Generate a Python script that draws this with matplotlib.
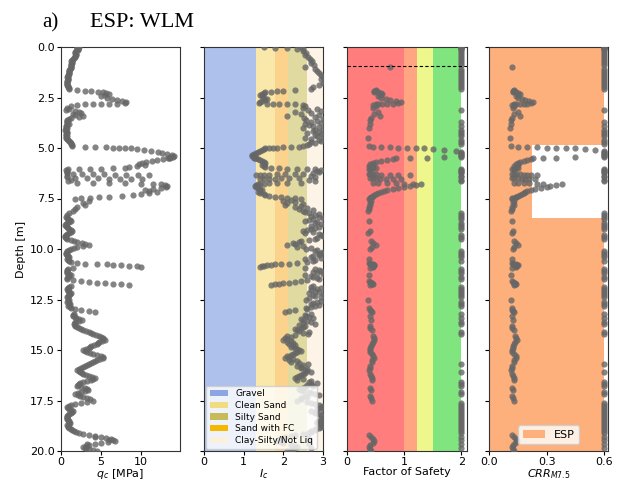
import matplotlib
matplotlib.use("Agg")
import matplotlib.pyplot as plt
from matplotlib.patches import Patch

# ---------------- data ----------------
DEPTH = [
    0.0, 0.02, 0.04, 0.06, 0.08, 0.1, 0.2, 0.3, 0.4, 0.5, 0.6, 0.7, 0.8, 0.9,
    1.0, 1.1, 1.2, 1.3, 1.4, 1.5, 1.6, 1.7, 1.8, 1.9, 2.0, 2.1,
    2.15, 2.17, 2.19, 2.21,
    2.25, 2.3, 2.35, 2.4, 2.45, 2.5, 2.55, 2.6, 2.65, 2.7, 2.75,
    2.8, 2.81, 2.82, 2.83, 2.84, 2.85,
    2.9, 3.0, 3.1, 3.2, 3.3, 3.4, 3.5, 3.6, 3.7, 3.8, 3.9, 4.0, 4.1, 4.2, 4.3, 4.4, 4.5, 4.6, 4.7, 4.8, 4.9,
    4.95, 4.96, 4.97, 4.98, 4.99, 5.0, 5.02,
    5.05, 5.1, 5.15, 5.2, 5.25, 5.3, 5.35, 5.4, 5.45,
    5.47, 5.48, 5.49,
    5.5, 5.55, 5.6, 5.65, 5.7, 5.75, 5.8, 5.85, 5.9, 5.95,
    6.0, 6.01, 6.02, 6.03, 6.04,
    6.05, 6.1, 6.15, 6.2, 6.25,
    6.28, 6.29, 6.3, 6.31, 6.32, 6.33, 6.34, 6.35,
    6.4, 6.45,
    6.48, 6.49, 6.5, 6.51, 6.52, 6.53, 6.54,
    6.6, 6.65,
    6.72, 6.73, 6.74, 6.75, 6.76, 6.77,
    6.8, 6.85, 6.9, 6.95, 7.0, 7.05, 7.1, 7.15, 7.2, 7.25, 7.3, 7.35,
    7.4, 7.42, 7.44, 7.46, 7.48, 7.5,
    7.6, 7.7, 7.8, 7.9, 8.0, 8.1, 8.2, 8.3,
    8.4, 8.5, 8.6, 8.7, 8.8, 8.9, 9.0, 9.1, 9.2, 9.3, 9.4, 9.5, 9.6, 9.7, 9.8, 9.9, 10.0, 10.1, 10.2, 10.3, 10.4, 10.5, 10.6,
    10.7, 10.72, 10.74, 10.76, 10.78, 10.8, 10.83, 10.86, 10.9,
    10.95, 11.0, 11.1, 11.2, 11.3, 11.4, 11.5,
    11.6, 11.63, 11.66, 11.69, 11.72, 11.75, 11.78,
    11.9, 12.0, 12.1, 12.2, 12.3, 12.4, 12.5, 12.6, 12.7, 12.8, 12.9,
    13.0, 13.05, 13.1,
    13.2, 13.3, 13.4, 13.5, 13.6, 13.7, 13.8, 13.9, 14.0,
    14.1, 14.2, 14.3, 14.4, 14.5, 14.6, 14.7, 14.8, 14.9, 15.0, 15.1, 15.2, 15.3, 15.4, 15.5, 15.6, 15.7, 15.8, 15.9, 16.0,
    16.1, 16.2, 16.3, 16.4, 16.5, 16.6, 16.7, 16.8, 16.9, 17.0, 17.1, 17.2, 17.3, 17.4, 17.5, 17.6, 17.7,
    17.8, 17.9, 18.0, 18.1, 18.2, 18.3, 18.4, 18.5, 18.6, 18.7, 18.8, 18.9, 19.0, 19.1,
    19.2, 19.3, 19.4, 19.5, 19.6, 19.7, 19.8, 19.9, 20.0,
    19.3, 19.45, 19.65, 19.85,
]

QC = [
    2.0, 2.2, 2.1, 2.1, 2.0, 2.1, 1.9, 1.8, 1.9, 1.7, 1.5, 1.3, 1.4, 1.2,
    1.3, 1.1, 1.0, 1.0, 0.9, 0.8, 0.9, 0.8, 0.7, 0.8, 0.9, 1.0,
    2.0, 3.0, 3.8, 4.6,
    5.2, 5.6, 6.0, 5.5, 5.0, 5.8, 6.4, 7.0, 7.6, 8.2, 8.0,
    7.0, 6.0, 5.0, 4.0, 3.0, 2.0,
    1.2, 0.8, 0.6, 2.2, 1.5, 2.8, 1.2, 0.8, 0.7, 1.0, 0.6, 0.7, 0.5, 0.8, 0.6, 0.7, 0.6, 0.9, 1.1, 1.3, 1.4,
    3.0, 4.2, 5.6, 6.5, 7.3, 8.0, 8.8,
    9.5, 10.4, 11.3, 12.1, 12.7, 13.3, 13.9, 14.2, 14.0,
    13.7, 13.6, 13.5,
    13.4, 12.8, 12.0, 11.4, 10.6, 10.2, 9.8, 10.5, 9.5, 8.5,
    8.0, 6.5, 5.0, 3.6, 2.2,
    0.9, 0.6, 0.8, 0.7, 0.8,
    1.5, 2.6, 4.0, 5.4, 6.8, 8.2, 9.6, 11.0,
    0.8, 0.7,
    1.8, 3.2, 4.6, 6.0, 7.4, 8.8, 10.2,
    1.2, 0.9,
    2.0, 4.0, 6.0, 8.0, 10.0, 11.5,
    12.5, 13.0, 13.3, 13.2, 12.5, 11.5, 10.5, 11.0, 12.0, 11.0, 10.0, 9.0,
    7.6, 6.0, 4.8, 3.6, 2.5, 1.8,
    3.5, 2.8, 3.0, 2.0, 1.8, 1.5, 1.0, 0.8,
    0.6, 0.9, 1.3, 0.8, 0.5, 0.7, 1.0, 1.4, 1.0, 0.6, 0.5, 0.8, 1.6, 2.6, 3.5, 2.0, 1.2, 0.8, 0.6, 0.7, 1.0, 0.8, 1.0,
    2.0, 3.0, 4.5, 5.7, 6.5, 7.5, 8.5, 9.5, 10.0,
    1.5, 0.9, 0.7, 0.8, 1.2, 0.9, 0.7,
    2.5, 3.5, 4.5, 5.5, 6.5, 7.5, 8.5,
    1.0, 0.8, 0.9, 1.2, 1.0, 0.7, 1.0, 0.8, 1.1, 0.9, 1.3,
    2.5, 3.5, 4.2,
    1.6, 1.5, 1.9, 2.6, 1.8, 1.6, 1.8, 2.2, 2.8,
    3.5, 4.0, 4.8, 5.2, 5.5, 4.8, 4.5, 3.8, 3.5, 2.8, 3.2, 4.0, 5.0, 5.3, 4.5, 4.0, 3.5, 3.0, 2.5, 2.0,
    2.4, 2.8, 3.5, 4.3, 3.8, 2.7, 2.2, 2.0, 3.0, 3.4, 2.5, 1.8, 2.4, 3.2, 4.0, 2.5, 1.2,
    0.8, 1.0, 1.5, 1.2, 0.9, 0.7, 0.8, 1.0, 1.1, 0.8, 0.9, 1.2, 1.6, 2.2,
    3.5, 5.0, 6.2, 6.7, 5.0, 3.5, 2.8, 3.5, 4.5,
    4.2, 6.0, 3.2, 3.0,
]

IC = [
    2.45, 1.5, 1.8, 2.1, 2.35, 2.5, 2.5, 2.58, 2.55, 2.62, 2.68, 2.72, 2.7, 2.78,
    2.55, 2.8, 2.85, 2.9, 2.95, 3.0, 2.95, 3.05, 3.0, 2.9, 2.75, 2.7,
    2.3, 2.0, 1.85, 1.7,
    1.55, 1.5, 1.45, 1.4, 1.45, 1.52, 1.6, 1.55, 1.45, 1.4, 1.38,
    1.6, 1.75, 1.9, 2.1, 2.3, 2.5,
    2.55, 2.5, 2.62, 2.3, 2.45, 2.1, 2.52, 2.58, 2.7, 2.55, 2.75, 2.5, 2.8, 2.9, 2.95, 2.85, 2.55, 2.9, 2.7, 2.65, 2.5,
    2.4, 2.2, 2.0, 1.85, 1.75, 1.65, 1.55,
    1.5, 1.45, 1.4, 1.35, 1.3, 1.25, 1.22, 1.22, 1.25,
    1.25, 1.27, 1.28,
    1.3, 1.35, 1.4, 1.45, 1.5, 1.55, 1.5, 1.45, 1.5, 1.55,
    1.7, 1.9, 2.1, 2.35, 2.6,
    2.8, 2.95, 2.85, 2.9, 2.75,
    2.5, 2.3, 2.05, 1.85, 1.65, 1.5, 1.4, 1.3,
    2.7, 2.8,
    2.4, 2.15, 1.95, 1.8, 1.65, 1.5, 1.4,
    2.65, 2.8,
    2.45, 2.1, 1.85, 1.65, 1.5, 1.4,
    1.35, 1.3, 1.28, 1.3, 1.35, 1.4, 1.45, 1.4, 1.35, 1.42, 1.5, 1.55,
    1.65, 1.8, 1.95, 2.1, 2.3, 2.45,
    2.0, 2.1, 2.05, 2.3, 2.4, 2.5, 2.65, 2.8,
    2.9, 2.75, 2.55, 2.8, 3.05, 2.9, 2.7, 2.5, 2.55, 2.95, 3.05, 2.8, 2.45, 2.25, 2.1, 2.35, 2.58, 2.8, 2.95, 2.9, 2.7, 2.55, 2.75,
    2.35, 2.15, 1.95, 1.8, 1.7, 1.6, 1.5, 1.45, 1.4,
    2.55, 2.8, 2.95, 2.85, 2.55, 2.75, 2.9,
    2.45, 2.3, 2.15, 2.0, 1.9, 1.8, 1.7,
    2.7, 2.85, 2.8, 2.65, 2.75, 2.95, 2.58, 2.85, 2.7, 2.8, 2.56,
    2.3, 2.15, 2.05,
    2.7, 2.58, 2.75, 2.5, 2.7, 2.8, 2.55, 2.45, 2.35,
    2.65, 2.62, 2.1, 2.05, 2.0, 2.1, 2.15, 2.25, 2.3, 2.4, 2.35, 2.25, 2.1, 2.05, 2.15, 2.2, 2.62, 2.35, 2.45, 2.55,
    2.7, 2.5, 2.4, 2.3, 2.35, 2.65, 2.7, 2.75, 2.5, 2.45, 2.65, 2.8, 2.55, 2.45, 2.35, 2.7, 2.9,
    2.95, 2.85, 2.7, 2.8, 2.95, 3.05, 3.0, 2.9, 2.85, 3.0, 2.95, 2.8, 2.7, 2.62,
    2.3, 2.05, 1.9, 1.85, 2.0, 2.2, 2.35, 2.25, 2.1,
    2.62, 2.65, 2.65, 2.7,
]

FS = [
    2, 2, 2, 2, 2, 2, 2, 2, 2, 2, 2, 2, 2, 2,
    0.75, 2, 2, 2, 2, 2, 2, 2, 2, 2, 2, 2,
    0.5, 0.5, 0.48, 0.47,
    0.55, 0.6, 0.62, 0.58, 0.55, 0.6, 0.68, 0.75, 0.85, 0.95, 0.9,
    0.8, 0.7, 0.62, 0.55, 0.5, 0.45,
    0.5, 0.45, 2, 0.55, 0.48, 0.58, 0.42, 0.4, 2, 0.4, 2, 0.38, 2, 2, 2, 2, 0.37, 2, 2, 2, 0.38,
    0.46, 0.6, 0.75, 0.9, 1.05, 1.2, 1.35,
    1.5, 1.7, 1.9, 2, 2, 2, 2, 2, 2,
    1.7, 1.4, 1.1,
    0.85, 0.8, 0.7, 0.6, 0.5, 0.45, 0.4, 0.45, 0.38, 0.4,
    0.5, 0.45, 0.42, 0.4, 0.38,
    2, 2, 2, 2, 2,
    0.38, 0.4, 0.45, 0.5, 0.6, 0.75, 0.9, 1.1,
    2, 2,
    0.4, 0.45, 0.5, 0.58, 0.68, 0.8, 0.95,
    2, 2,
    0.45, 0.55, 0.7, 0.85, 1.0, 1.15,
    1.3, 1.2, 1.1, 1.0, 0.9, 0.8, 0.7, 0.65, 0.6, 0.55, 0.5, 0.48,
    0.45, 0.43, 0.42, 0.4, 0.4, 0.38,
    0.42, 0.4, 0.41, 0.38, 0.38, 0.37, 2, 2,
    2, 2, 0.38, 2, 2, 2, 2, 0.4, 0.37, 2, 2, 2, 0.42, 0.45, 0.5, 0.43, 0.4, 2, 2, 2, 2, 0.38, 2,
    0.38, 0.4, 0.42, 0.45, 0.47, 0.48, 0.46, 0.44, 0.45,
    0.4, 2, 2, 2, 0.38, 2, 2,
    0.38, 0.4, 0.42, 0.44, 0.45, 0.43, 0.4,
    2, 2, 2, 2, 2, 2, 0.37, 2, 2, 2, 0.38,
    0.4, 0.42, 0.43,
    2, 0.4, 2, 0.42, 2, 2, 0.4, 0.41, 0.43,
    2, 2, 0.45, 0.47, 0.48, 0.45, 0.44, 0.42, 0.41, 0.4, 0.41, 0.43, 0.46, 0.47, 0.44, 0.43, 2, 0.41, 0.4, 0.39,
    2, 0.4, 0.42, 0.44, 0.43, 2, 2, 2, 0.41, 0.42, 2, 2, 0.4, 0.42, 0.44, 2, 2,
    2, 2, 2, 2, 2, 2, 2, 2, 2, 2, 2, 2, 2, 2,
    0.38, 0.42, 0.46, 0.48, 0.45, 0.4, 0.38, 0.4, 0.42,
    2, 2, 2, 2,
]

CRR = [
    0.6, 0.6, 0.6, 0.6, 0.6, 0.6, 0.6, 0.6, 0.6, 0.6, 0.6, 0.6, 0.6, 0.6,
    0.12, 0.6, 0.6, 0.6, 0.6, 0.6, 0.6, 0.6, 0.6, 0.6, 0.6, 0.6,
    0.13, 0.13, 0.125, 0.125,
    0.14, 0.15, 0.16, 0.15, 0.14, 0.15, 0.17, 0.19, 0.21, 0.23, 0.22,
    0.2, 0.18, 0.16, 0.14, 0.13, 0.12,
    0.13, 0.125, 0.6, 0.15, 0.13, 0.16, 0.12, 0.115, 0.6, 0.115, 0.6, 0.11, 0.6, 0.6, 0.6, 0.6, 0.11, 0.6, 0.6, 0.6, 0.115,
    0.15, 0.2, 0.25, 0.3, 0.35, 0.4, 0.45,
    0.5, 0.55, 0.6, 0.6, 0.6, 0.6, 0.6, 0.6, 0.6,
    0.45, 0.35, 0.28,
    0.23, 0.22, 0.2, 0.18, 0.16, 0.15, 0.14, 0.15, 0.13, 0.14,
    0.15, 0.14, 0.13, 0.13, 0.12,
    0.6, 0.6, 0.6, 0.6, 0.6,
    0.12, 0.13, 0.14, 0.16, 0.18, 0.2, 0.22, 0.25,
    0.6, 0.6,
    0.12, 0.13, 0.15, 0.17, 0.19, 0.21, 0.24,
    0.6, 0.6,
    0.13, 0.15, 0.18, 0.21, 0.25, 0.28,
    0.38, 0.35, 0.32, 0.3, 0.27, 0.24, 0.22, 0.2, 0.19, 0.18, 0.17, 0.16,
    0.15, 0.14, 0.14, 0.13, 0.12, 0.12,
    0.13, 0.125, 0.13, 0.12, 0.12, 0.115, 0.6, 0.6,
    0.6, 0.6, 0.12, 0.6, 0.6, 0.6, 0.6, 0.125, 0.12, 0.6, 0.6, 0.6, 0.13, 0.14, 0.15, 0.13, 0.125, 0.6, 0.6, 0.6, 0.6, 0.12, 0.6,
    0.12, 0.125, 0.13, 0.14, 0.145, 0.15, 0.14, 0.135, 0.14,
    0.12, 0.6, 0.6, 0.6, 0.115, 0.6, 0.6,
    0.12, 0.125, 0.13, 0.135, 0.14, 0.135, 0.13,
    0.6, 0.6, 0.6, 0.6, 0.6, 0.6, 0.115, 0.6, 0.6, 0.6, 0.12,
    0.12, 0.125, 0.13,
    0.6, 0.12, 0.6, 0.125, 0.6, 0.6, 0.12, 0.12, 0.13,
    0.6, 0.6, 0.135, 0.14, 0.145, 0.135, 0.13, 0.125, 0.125, 0.12, 0.12, 0.13, 0.14, 0.14, 0.13, 0.13, 0.6, 0.12, 0.12, 0.115,
    0.6, 0.12, 0.125, 0.13, 0.13, 0.6, 0.6, 0.6, 0.12, 0.125, 0.6, 0.6, 0.12, 0.125, 0.13, 0.6, 0.6,
    0.6, 0.6, 0.6, 0.6, 0.6, 0.6, 0.6, 0.6, 0.6, 0.6, 0.6, 0.6, 0.6, 0.6,
    0.12, 0.13, 0.14, 0.145, 0.135, 0.125, 0.12, 0.125, 0.13,
    0.6, 0.6, 0.6, 0.6,
]

# additional readings in the densely sampled stretches of the qc profile
QC_EXTRA_DEPTH = [
    0.05, 0.15, 0.25, 0.35, 0.45, 0.55, 0.65, 0.75, 0.85, 0.95, 1.05, 1.15, 1.25, 1.35, 1.45, 1.55, 1.65, 1.75, 1.85, 1.95, 2.05,
    3.05, 3.15, 3.25, 3.35, 3.45, 3.55, 3.65, 3.75, 3.85, 3.95, 4.05, 4.15, 4.25, 4.35, 4.45, 4.55, 4.65, 4.75, 4.85,
    8.45, 8.55, 8.65, 8.75, 8.85, 8.95, 9.05, 9.15, 9.25, 9.35, 9.45, 9.55, 9.65, 9.75, 9.85, 9.95, 10.05, 10.15, 10.25, 10.35, 10.45, 10.55, 10.65,
    11.05, 11.15, 11.25, 11.35, 11.45, 11.55, 11.85, 11.95, 12.05, 12.15, 12.25, 12.35, 12.45, 12.55, 12.65, 12.75, 12.85, 12.95,
    13.25, 13.35, 13.45, 13.55, 13.65, 13.75, 13.85, 13.95, 14.05, 14.15, 14.25, 14.35, 14.45, 14.55, 14.65, 14.75, 14.85, 14.95,
    15.05, 15.15, 15.25, 15.35, 15.45, 15.55, 15.65, 15.75, 15.85, 15.95,
    16.05, 16.15, 16.25, 16.35, 16.45, 16.55, 16.65, 16.75, 16.85, 16.95, 17.05, 17.15, 17.25, 17.35, 17.45, 17.55, 17.65, 17.75,
    17.85, 17.95, 18.05, 18.15, 18.25, 18.35, 18.45, 18.55, 18.65, 18.75, 18.85, 18.95, 19.05, 19.15, 19.25, 19.35, 19.45, 19.55,
    19.65, 19.75, 19.85, 19.95,
]
QC_EXTRA = [
    2.0, 2.1, 1.8, 1.9, 1.75, 1.6, 1.4, 1.35, 1.3, 1.25, 1.2, 1.05, 1.0, 0.95, 0.85, 0.85, 0.85, 0.75, 0.75, 0.85, 0.95,
    1.0, 1.8, 2.5, 1.8, 2.2, 1.0, 0.7, 0.8, 0.8, 0.6, 0.6, 0.6, 0.7, 0.65, 0.65, 0.75, 1.0, 1.2, 1.35,
    0.75, 1.1, 1.0, 0.6, 0.6, 0.85, 1.2, 1.2, 0.8, 0.55, 0.65, 1.2, 2.0, 3.0, 2.8, 1.6, 1.0, 0.7, 0.65, 0.85, 0.9, 0.9, 1.2,
    0.8, 0.75, 1.0, 1.05, 0.8, 1.5, 1.2, 0.9, 0.85, 1.05, 1.1, 0.85, 0.85, 0.9, 0.95, 1.0, 1.1, 1.8,
    1.55, 1.7, 2.2, 2.2, 1.7, 1.7, 2.0, 2.5, 3.1, 3.7, 4.4, 5.0, 5.3, 5.1, 4.6, 4.1, 3.6, 3.1,
    3.0, 3.6, 4.5, 5.2, 4.9, 4.2, 3.7, 3.2, 2.7, 2.2,
    2.2, 2.6, 3.1, 3.9, 4.0, 3.2, 2.4, 2.1, 2.5, 3.2, 3.0, 2.1, 2.1, 2.8, 3.6, 3.2, 1.8, 1.0,
    0.9, 1.25, 1.35, 1.05, 0.8, 0.75, 0.9, 1.05, 0.95, 0.85, 1.05, 1.4, 1.9, 2.8, 4.2, 5.6, 6.5, 5.9,
    4.2, 3.1, 3.1, 4.0,
]

# additional readings in the densely sampled stretches of the Ic profile
IC_EXTRA_DEPTH = [
    3.05, 3.15, 3.25, 3.35, 3.45, 3.55, 3.65, 3.75, 3.85, 3.95, 4.05, 4.15, 4.25, 4.35, 4.45, 4.55, 4.65, 4.75, 4.85,
    7.55, 7.65, 7.75, 7.85, 7.95, 8.05, 8.15, 8.25, 8.35, 8.45, 8.55, 8.65, 8.75, 8.85, 8.95, 9.05, 9.15, 9.25, 9.35, 9.45,
    9.55, 9.65, 9.75, 9.85, 9.95, 10.05, 10.15, 10.25, 10.35, 10.45, 10.55, 10.65,
    11.05, 11.15, 11.25, 11.35, 11.45, 11.55, 11.85, 11.95, 12.05, 12.15, 12.25, 12.35, 12.45, 12.55, 12.65, 12.75, 12.85, 12.95,
    13.25, 13.35, 13.45, 13.55, 13.65, 13.75, 13.85, 13.95, 14.05, 14.15, 14.25, 14.35, 14.45, 14.55, 14.65, 14.75, 14.85, 14.95,
    15.05, 15.15, 15.25, 15.35, 15.45, 15.55, 15.65, 15.75, 15.85, 15.95,
    16.05, 16.15, 16.25, 16.35, 16.45, 16.55, 16.65, 16.75, 16.85, 16.95, 17.05, 17.15, 17.25, 17.35, 17.45, 17.55, 17.65, 17.75,
    17.85, 17.95, 18.05, 18.15, 18.25, 18.35, 18.45, 18.55, 18.65, 18.75, 18.85, 18.95, 19.05, 19.15, 19.25, 19.35, 19.55, 19.75, 19.95,
]
IC_EXTRA = [
    2.85, 2.95, 2.7, 2.9, 2.8, 3.0, 2.85, 2.95, 2.65, 2.9, 3.0, 2.75, 2.6, 2.8, 3.0, 2.7, 2.95, 2.8, 2.6,
    2.2, 2.3, 2.5, 2.45, 2.6, 2.75, 2.55, 2.9, 2.7, 3.0, 2.65, 2.85, 2.95, 2.7, 2.8, 2.6, 2.75, 2.9, 3.0, 2.85,
    2.65, 2.4, 2.3, 2.5, 2.7, 2.85, 3.0, 2.9, 2.75, 2.95, 2.8, 2.6,
    2.9, 2.75, 3.0, 2.7, 2.85, 2.6, 2.75, 2.95, 2.7, 2.9, 3.0, 2.8, 2.65, 2.95, 2.75, 2.9, 2.7, 2.6,
    2.55, 2.65, 2.45, 2.6, 2.5, 2.4, 2.5, 2.3, 2.4, 2.5, 2.3, 2.2, 2.1, 2.2, 2.25, 2.3, 2.2, 2.35,
    2.45, 2.3, 2.2, 2.15, 2.25, 2.35, 2.4, 2.5, 2.45, 2.6,
    2.6, 2.55, 2.45, 2.35, 2.5, 2.7, 2.85, 2.6, 2.55, 2.4, 2.5, 2.7, 2.9, 2.6, 2.45, 2.6, 2.8, 3.0,
    2.9, 3.0, 2.8, 2.9, 3.05, 2.95, 3.0, 2.85, 2.95, 3.0, 2.9, 2.8, 2.7, 2.5, 2.2, 2.0, 1.95, 2.3, 2.2,
]

assert len(DEPTH) == len(QC) == len(IC) == len(FS) == len(CRR), (
    len(DEPTH), len(QC), len(IC), len(FS), len(CRR))
assert len(QC_EXTRA_DEPTH) == len(QC_EXTRA), (len(QC_EXTRA_DEPTH), len(QC_EXTRA))
assert len(IC_EXTRA_DEPTH) == len(IC_EXTRA), (len(IC_EXTRA_DEPTH), len(IC_EXTRA))

# Soil behaviour type zones (Ic ranges)
IC_ZONES = [(0.0, 1.31), (1.31, 1.8), (1.8, 2.12), (2.12, 2.6), (2.6, 3.0)]
IC_ZONE_COLORS = ['#adc1ec', '#f9e8aa', '#fbd38c', '#e0d9a0', '#fdf3e6']
IC_LEGEND = ['Gravel', 'Clean Sand', 'Silty Sand', 'Sand with FC', 'Clay-Silty/Not Liq']
IC_LEGEND_COLORS = ['#8da5e2', '#f2dc82', '#c8ba58', '#f5b700', '#fcefdc']

# Factor of safety zones
FS_ZONES = [(0.0, 1.0), (1.0, 1.23), (1.23, 1.5), (1.5, 2.0)]
FS_ZONE_COLORS = ['#ff7d7d', '#ffa581', '#eef78c', '#80e57e']
GWT = 0.94

# ESP CRR envelope
ESP_CRR_MAX = 0.6
ESP_GAP_DEPTH = (4.85, 8.45)
ESP_GAP_CRR = 0.225
ESP_COLOR = '#fdb07b'

# ---------------- figure ----------------
W, H = 617, 483
fig = plt.figure(figsize=(W / 100, H / 100), dpi=100)
TOP, BOT = 47, 451


def add_ax(x0, x1):
    return fig.add_axes([x0 / W, (H - BOT) / H, (x1 - x0) / W, (BOT - TOP) / H])


ax1 = add_ax(61, 180)
ax2 = add_ax(204, 323)
ax3 = add_ax(347, 467)
ax4 = add_ax(489, 608)

PT = dict(s=20, color='#666666', alpha=0.8, linewidths=0, zorder=3)
YTICKS = [0, 2.5, 5, 7.5, 10, 12.5, 15, 17.5, 20]

for ax in (ax1, ax2, ax3, ax4):
    ax.set_ylim(20, 0)
    ax.set_yticks(YTICKS)
    ax.tick_params(labelsize=8, length=3, width=0.8, pad=1.5)
    for s in ax.spines.values():
        s.set_color('#333333')
        s.set_linewidth(0.8)

# qc
ax1.scatter(QC, DEPTH, **PT)
ax1.scatter(QC_EXTRA, QC_EXTRA_DEPTH, **PT)
ax1.set_xlim(0, 14.9)
ax1.set_xticks([0, 5, 10])
ax1.set_yticklabels(['%.1f' % v for v in YTICKS])
ax1.set_ylabel('Depth [m]', fontsize=8, labelpad=3)
ax1.set_xlabel('$q_c$ [MPa]', fontsize=8, labelpad=0)

# Ic
for (a, b), c in zip(IC_ZONES, IC_ZONE_COLORS):
    ax2.axvspan(a, b, color=c, lw=0, zorder=1)
ax2.scatter(IC, DEPTH, **PT)
ax2.scatter(IC_EXTRA, IC_EXTRA_DEPTH, **PT)
ax2.set_xlim(0, 3)
ax2.set_xticks([0, 1, 2, 3])
ax2.set_yticklabels([])
ax2.set_xlabel('$I_c$', fontsize=8, labelpad=0)
handles = [Patch(facecolor=c, edgecolor='none', label=l)
           for c, l in zip(IC_LEGEND_COLORS, IC_LEGEND)]
ax2.legend(handles=handles, loc='lower left', fontsize=6.5, framealpha=0.8,
           borderaxespad=0.25, handlelength=2.0, labelspacing=0.3,
           borderpad=0.4, handletextpad=0.8)

# FS
for (a, b), c in zip(FS_ZONES, FS_ZONE_COLORS):
    ax3.axvspan(a, b, color=c, lw=0, zorder=1)
ax3.scatter(FS, DEPTH, **PT)
ax3.axhline(GWT, color='black', lw=0.8, ls=(0, (3, 2)), zorder=4)
ax3.set_xlim(0, 2.1)
ax3.set_xticks([0, 1, 2])
ax3.set_yticklabels([])
ax3.set_xlabel('Factor of Safety', fontsize=8, labelpad=0)

# CRR
ax4.axvspan(0, ESP_CRR_MAX, color=ESP_COLOR, lw=0, zorder=1)
ax4.fill_betweenx(list(ESP_GAP_DEPTH), ESP_GAP_CRR, 0.62, color='white', lw=0, zorder=1.5)
ax4.scatter(CRR, DEPTH, **PT)
ax4.set_xlim(0, 0.62)
ax4.set_xticks([0.0, 0.3, 0.6])
ax4.set_xticklabels(['0.0', '0.3', '0.6'])
ax4.set_yticklabels([])
ax4.set_xlabel('$CRR_{M7.5}$', fontsize=8, labelpad=0)
ax4.legend(handles=[Patch(facecolor=ESP_COLOR, edgecolor='none', label='ESP')],
           loc='lower center', fontsize=8, framealpha=0.8, borderaxespad=0.6)

# title
fig.text(42 / W, 0.944, 'a)', fontfamily='Liberation Serif', fontsize=15)
fig.text(90 / W, 0.944, 'ESP: WLM', fontfamily='Liberation Serif', fontsize=16)

fig.savefig('out.png', dpi=100)
